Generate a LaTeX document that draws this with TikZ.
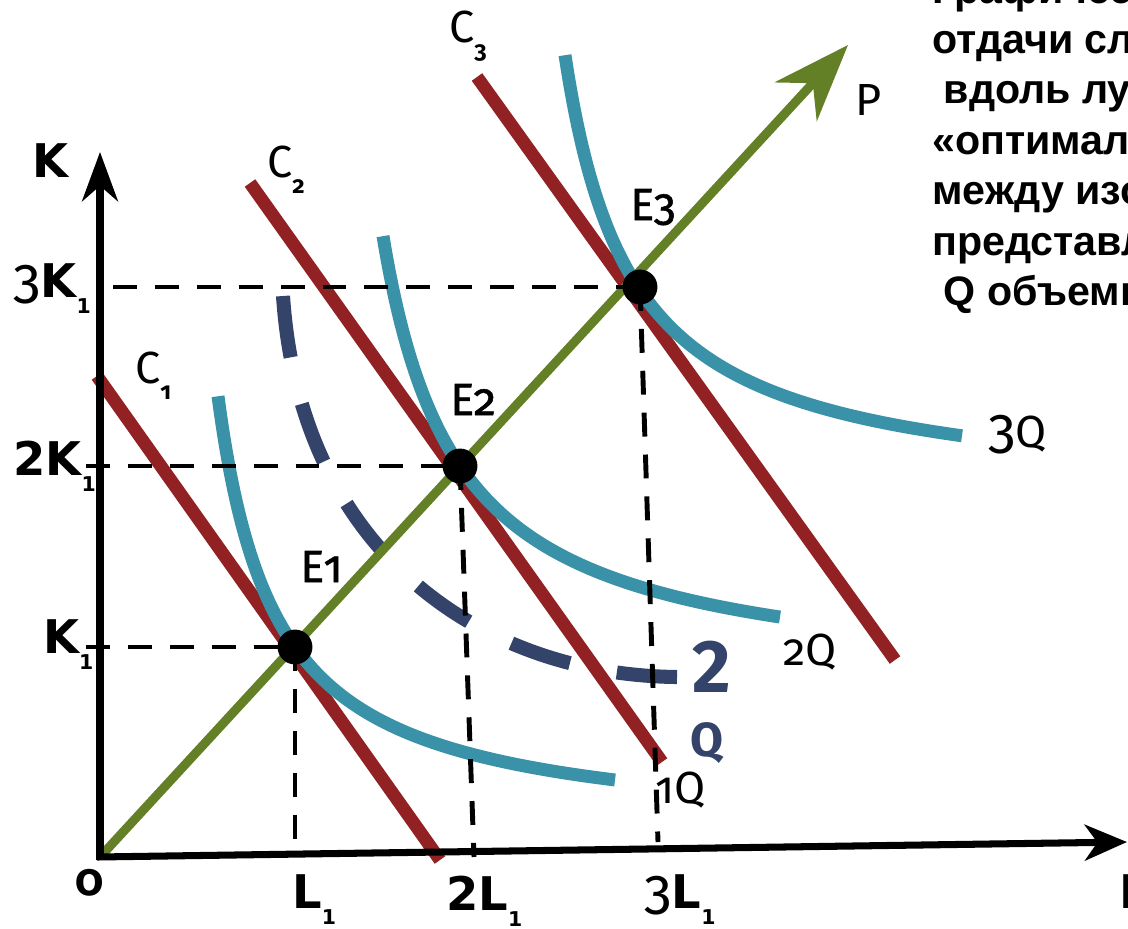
\documentclass[tikz,border=0pt]{standalone}
\usepackage{fontspec}
\setmainfont{Fira Sans}[Numbers=OldStyle]
\newfontfamily\axfont{DejaVu Sans}
\newfontfamily\rufont{Liberation Sans}
\usetikzlibrary{arrows.meta}
\definecolor{budget}{RGB}{145,33,35}
\definecolor{isoq}{RGB}{58,146,168}
\definecolor{ray}{RGB}{100,128,38}
\definecolor{navyq}{RGB}{52,67,105}
\newcommand{\lowsub}[1]{\raisebox{-12pt}{\bfseries\fontsize{17}{17}\selectfont #1}}
\newcommand{\lowbsub}[1]{\raisebox{-12pt}{\axfont\bfseries\fontsize{14.5}{14.5}\selectfont #1}}
\newcommand{\bigthree}{{\normalfont\fontsize{40}{40}\selectfont 3}}

\begin{document}
\begin{tikzpicture}[x=0.025cm, y=-0.025cm,
  budgetline/.style={budget, line width=9.2pt},
  isoline/.style={isoq, line width=9.2pt},
  guide/.style={black, line width=3.5pt, dash pattern=on 17pt off 12.8pt},
  axis/.style={line width=5pt, -{Stealth[length=35pt, width=25.5pt, inset=11pt]}},
  edot/.style={circle, fill=black, inner sep=0pt, minimum size=24.8pt},
  lbl/.style={inner sep=0pt, anchor=base west, font=\fontsize{32}{32}\selectfont},
  elbl/.style={lbl, font=\addfontfeatures{FakeBold=1.2}\fontsize{32}{32}\selectfont},
  axlbl/.style={inner sep=0pt, anchor=base west, font=\axfont\bfseries\fontsize{33}{33}\selectfont},
  rutext/.style={inner sep=0pt, anchor=base west, font=\rufont\bfseries\fontsize{29.3}{29.3}\selectfont}]
  \useasboundingbox (0,0) rectangle (1128,928);
  \clip (0,0) rectangle (1128,928);

  % budget lines C1, C2, C3
  \draw[budgetline] (97,376) -- (440,860);
  \draw[budgetline] (250,183) -- (662,762);
  \draw[budgetline] (477,77) -- (895,660);

  % isoquants Q, 2Q, 3Q
  \draw[isoline] plot[domain=218:615, samples=200] (\x, {836.1-255.53/((\x-159.9)/100)});
  \draw[isoline] plot[domain=383:780, samples=200] (\x, {688.5-337/((\x-308.5)/100)});
  \draw[isoline] plot[domain=565:962, samples=200] (\x, {500-298/((\x-498)/100)});

  % dashed isoquant 2Q
  \draw[navyq, line width=10pt, dash pattern=on 44pt off 34pt]
    (283,296) .. controls (300,550) and (480,675) .. (677,677);

  % ray P
  \coordinate (O) at (100,857);
  \coordinate (ptip) at (848,45);
  \draw[ray, line width=6.4pt, -{Stealth[length=54.6pt, width=40.4pt, inset=17.7pt]}] (O) -- (ptip);

  % equilibrium points
  \node[edot] (E1) at (295,647) {};
  \node[edot] (E2) at (460,466) {};
  \node[edot] (E3) at (640,287) {};

  % guide lines
  \coordinate (k1) at (86,647);
  \coordinate (k2) at (86,466);
  \coordinate (k3) at (113,287);
  \coordinate (l1) at (295,840);
  \coordinate (l2) at (474,857);
  \coordinate (l3) at (658,842);
  \draw[guide] (k1) -- (E1.center);
  \draw[guide] (k2) -- (E2.center);
  \draw[guide] (k3) -- (E3.center);
  \draw[guide] (E1.center) -- (l1);
  \draw[guide] (E2.center) -- (l2);
  \draw[guide] (E3.center) -- (l3);

  % axes
  \coordinate (ktip) at (100,152);
  \coordinate (ltip) at (1127,842);
  \draw[axis] (100,860) -- (ktip);
  \draw[axis, -{Stealth[length=30pt, width=25.5pt, inset=9pt]}] (97,857) -- (ltip);

  % axis labels
  \node[axlbl] (klbl) at (32,177) {K};
  \node[axlbl] (k3lbl) at (13,297) {\bigthree K\lowbsub{1}};
  \node[axlbl] (k2lbl) at (13,475) {2K\lowbsub{1}};
  \node[axlbl] (k1lbl) at (43,653) {K\lowbsub{1}};
  \node[lbl, font=\bfseries\fontsize{32}{32}\selectfont] (olbl) at (75,895) {0};
  \node[axlbl] (l1lbl) at (292,908) {L\lowbsub{1}};
  \node[axlbl] (l2lbl) at (446,910) {2L\lowbsub{1}};
  \node[axlbl] (l3lbl) at (644,908) {\bigthree L\lowbsub{1}};
  \node[axlbl] (llbl) at (1119,908) {L};

  % curve labels
  \node[lbl] (c1lbl) at (135,383) {C\lowsub{1}};
  \node[lbl] (c2lbl) at (267,177) {C\lowsub{2}};
  \node[lbl] (c3lbl) at (449,42) {C\lowsub{3}};
  \node[elbl] (e1lbl) at (300,582) {E1};
  \node[elbl] (e2lbl) at (450,415) {E2};
  \node[elbl] (e3lbl) at (630,220) {E3};
  \node[lbl] (plbl) at (855,115) {P};
  \node[lbl] (q3lbl) at (988,447) {\bigthree Q};
  \node[lbl] (q2lbl) at (783,665) {2Q};
  \node[lbl] (q1lbl) at (655,803) {1Q};
  \node[lbl, navyq, font=\bfseries\addfontfeatures{Numbers=Lining}\fontsize{53}{53}\selectfont] (n2lbl) at (692,692) {2};
  \node[lbl, navyq, font=\bfseries\fontsize{34}{34}\selectfont] (nqlbl) at (690,756) {Q};

  % text on the right
  \foreach \rutxt [count=\i from 0] in {Графичес, отдачи сл, ~вдоль лу, «оптимал, между изо, представл, ~Q объемн}
    \node[rutext] (ru\i) at (932, {3+50.4*\i}) {\rutxt};
\end{tikzpicture}
\end{document}
